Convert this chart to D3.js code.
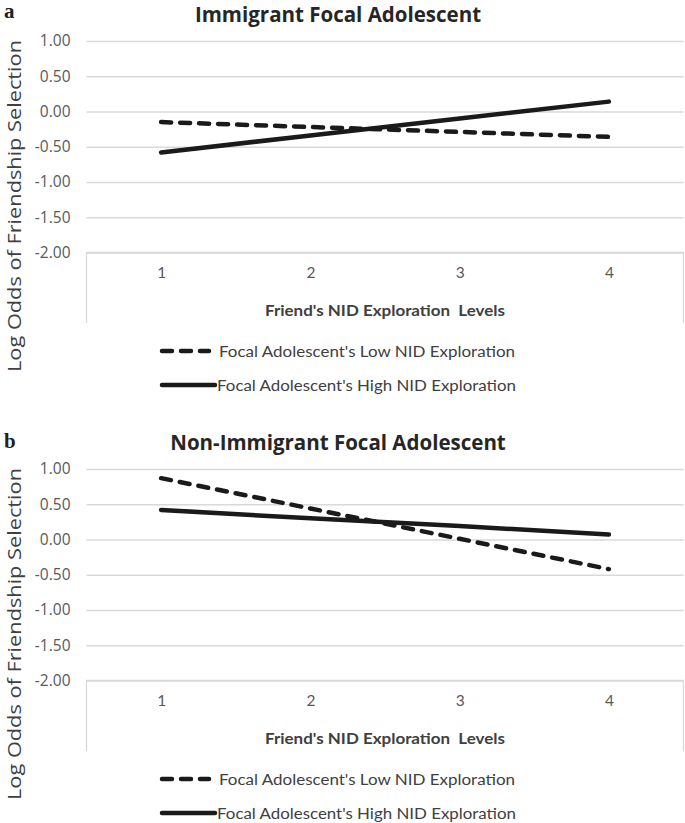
<!DOCTYPE html>
<html>
<head>
<meta charset="utf-8">
<script src="https://cdn.jsdelivr.net/npm/d3@7"></script>
<style>
  html, body { margin: 0; padding: 0; background: #fff; }
  svg { display: block; }
</style>
</head>
<body>
<svg id="chart" width="685" height="823"></svg>
<script>
// ---- data ----
const categories = [1, 2, 3, 4];
const yTicks = [1.00, 0.50, 0.00, -0.50, -1.00, -1.50, -2.00];
const yDomain = [-2, 1];
const panelLetters = ["a", "b"];
const panelTitles = ["Immigrant Focal Adolescent", "Non-Immigrant Focal Adolescent"];
const seriesNames = ["Focal Adolescent's Low NID Exploration", "Focal Adolescent's High NID Exploration"];
const immigrantLow = [-0.15, -0.22, -0.29, -0.36];
const immigrantHigh = [-0.58, -0.34, -0.10, 0.14];
const nonImmigrantLow = [0.87, 0.44, 0.01, -0.42];
const nonImmigrantHigh = [0.42, 0.30, 0.19, 0.07];
const xAxisTitle = "Friend's NID Exploration  Levels";
const yAxisTitle = "Log Odds of Friendship Selection";

const panels = [
  { letter: panelLetters[0], title: panelTitles[0], low: immigrantLow, high: immigrantHigh },
  { letter: panelLetters[1], title: panelTitles[1], low: nonImmigrantLow, high: nonImmigrantHigh }
];

const svg = d3.select("#chart");
const panelOffset = 428;
const plotLeft = 86.5, plotRight = 683.5, plotTop = 41, plotBottom = 252.5;

const x = d3.scalePoint().domain(categories).range([plotLeft, plotRight]).padding(0.5);
const y = d3.scaleLinear().domain(yDomain).range([plotBottom, plotTop]);

const fontMain = "'Open Sans', sans-serif";
const fontNarrow = "Lato, 'Open Sans', sans-serif";

panels.forEach((p, i) => {
  const g = svg.append("g").attr("transform", `translate(0,${i * panelOffset})`);

  // panel letter
  g.append("text").attr("x", 4).attr("y", i === 0 ? 18 : 20)
    .attr("font-family", "'Liberation Serif', 'DejaVu Serif', serif")
    .attr("font-weight", "bold").attr("font-size", 21).attr("fill", "#231f20")
    .text(p.letter);

  // title
  g.append("text").attr("x", 338).attr("y", 21.5).attr("text-anchor", "middle")
    .attr("font-family", fontMain).attr("font-weight", "bold").attr("font-size", 20.5)
    .attr("fill", "#262626").text(p.title);

  // y axis with gridlines
  const yAxis = d3.axisLeft(y).tickValues(yTicks)
    .tickSize(-(plotRight - plotLeft)).tickPadding(16)
    .tickFormat(v => v.toFixed(2));
  const ya = g.append("g").attr("transform", `translate(${plotLeft},0)`).call(yAxis);
  ya.select(".domain").remove();
  ya.selectAll(".tick line").attr("stroke", "#d9d9d9").attr("stroke-width", 1.3);
  ya.selectAll(".tick text").attr("font-family", fontMain).attr("font-size", 15.5)
    .attr("fill", "#595959");

  // frame below the plot (category area)
  g.append("path")
    .attr("d", `M${plotLeft},323 V${plotBottom} H${plotRight} V323`)
    .attr("fill", "none").attr("stroke", "#d9d9d9").attr("stroke-width", 1.3);

  // x axis labels
  const xAxis = d3.axisBottom(x).tickSize(0).tickPadding(14);
  const xa = g.append("g").attr("transform", `translate(0,${plotBottom})`).call(xAxis);
  xa.select(".domain").remove();
  xa.selectAll(".tick text").attr("font-family", fontNarrow).attr("font-size", 15.5)
    .attr("fill", "#595959");

  // x axis title
  g.append("text").attr("x", (plotLeft + plotRight) / 2).attr("y", 316)
    .attr("text-anchor", "middle").attr("font-family", fontNarrow)
    .attr("font-weight", "bold").attr("font-size", 14.5).attr("fill", "#404040")
    .style("white-space", "pre")
    .attr("textLength", 240).attr("lengthAdjust", "spacingAndGlyphs")
    .text(xAxisTitle);

  // y axis title
  g.append("text").attr("transform", `translate(21,206) rotate(-90)`)
    .attr("text-anchor", "middle").attr("font-family", fontMain)
    .attr("font-size", 19).attr("fill", "#404040")
    .attr("textLength", 332).attr("lengthAdjust", "spacingAndGlyphs")
    .text(yAxisTitle);

  // lines
  const line = d3.line().x((d, k) => x(categories[k])).y(d => y(d));
  g.append("path").datum(p.low).attr("d", line)
    .attr("fill", "none").attr("stroke", "#1a1a1a").attr("stroke-width", 4.5)
    .attr("stroke-linecap", "round").attr("stroke-dasharray", "10,9");
  g.append("path").datum(p.high).attr("d", line)
    .attr("fill", "none").attr("stroke", "#1a1a1a").attr("stroke-width", 4.5)
    .attr("stroke-linecap", "round");

  // legend
  const legendRows = [
    { name: seriesNames[0], dash: "10,9", y: 351, x2: 209, tx: 219, len: 296 },
    { name: seriesNames[1], dash: null, y: 385, x2: 215, tx: 217, len: 299 }
  ];
  legendRows.forEach(r => {
    g.append("line").attr("x1", 162).attr("x2", r.x2).attr("y1", r.y).attr("y2", r.y)
      .attr("stroke", "#1a1a1a").attr("stroke-width", 4.5).attr("stroke-linecap", "round")
      .attr("stroke-dasharray", r.dash);
    g.append("text").attr("x", r.tx).attr("y", r.y + 5.5)
      .attr("font-family", fontNarrow).attr("font-size", 15.5).attr("fill", "#404040")
      .attr("textLength", r.len).attr("lengthAdjust", "spacingAndGlyphs")
      .text(r.name);
  });
});
</script>
</body>
</html>
